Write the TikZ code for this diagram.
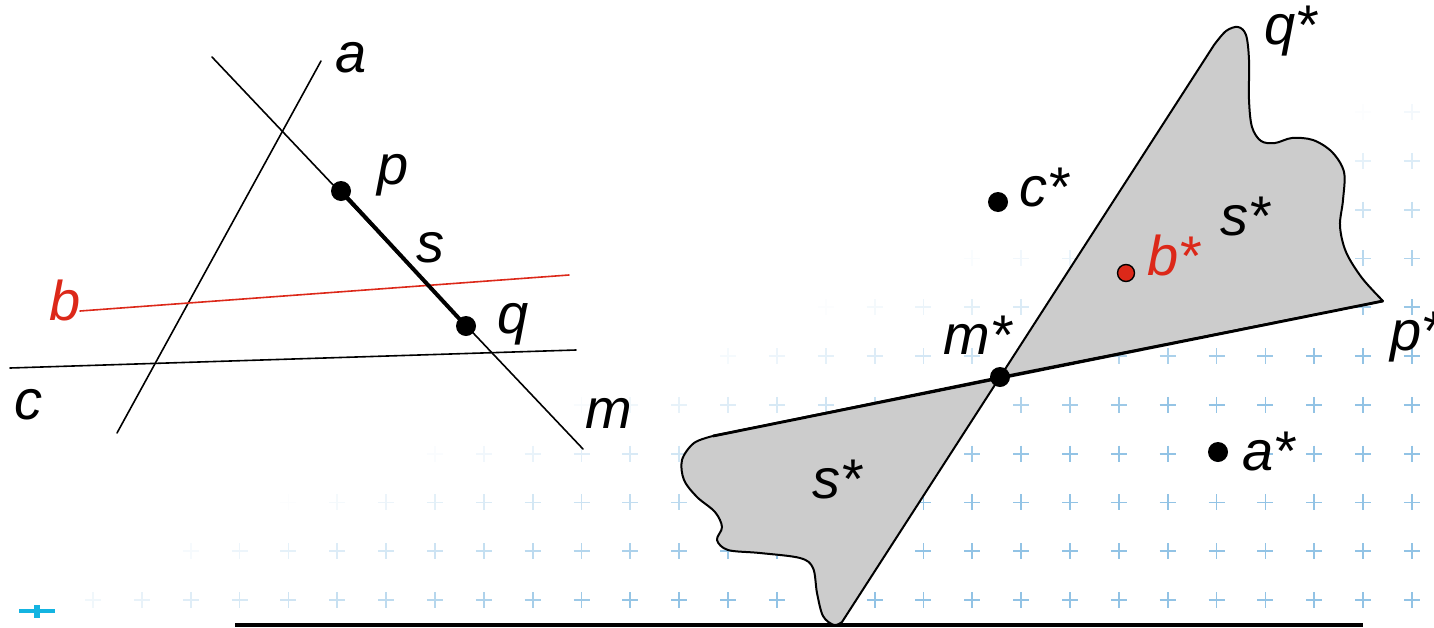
\documentclass[tikz,border=0pt]{standalone}
\usepackage{fontspec}
\setmainfont{Liberation Sans}
\definecolor{redb}{RGB}{220,40,25}
\definecolor{shadegray}{RGB}{204,204,204}
\definecolor{gridblue}{RGB}{110,175,220}
\definecolor{cyanplus}{RGB}{20,180,225}
\newcommand{\lab}[1]{\textit{#1}}
\newcommand{\labs}[1]{\textit{#1}\kern1pt\textup{*}}
\begin{document}
\begin{tikzpicture}[x=0.5pt,y=-0.5pt,
  font=\fontsize{28}{32}\selectfont,
  thinline/.style={line width=0.8pt, line cap=round},
  thickseg/.style={line width=2pt},
  blobstyle/.style={fill=shadegray, draw=black, line width=1pt, line join=round},
  starline/.style={line width=1.4pt},
  dot/.style={circle, fill=black, inner sep=0pt, minimum size=10pt},
  reddot/.style={circle, fill=redb, draw=black, line width=0.7pt, inner sep=0pt, minimum size=8.5pt},
  lbl/.style={anchor=base west, inner sep=0pt},
  gridplus/.style={draw=gridblue, line width=0.9pt}]
\useasboundingbox (0,0) rectangle (1434,627);
\clip (0,0) rectangle (1434,627);

% faint background grid of plus signs
\foreach \i in {0,...,27}{
  \foreach \j in {0,...,10}{
    \pgfmathsetmacro\gx{93+48.85*\i}
    \pgfmathsetmacro\gy{600-48.8*\j}
    \pgfmathsetmacro\op{max(0,min(1,(\gx/1434+1.2*\gy/627-1.15)/0.45))*0.75}
    \ifdim\op pt>0.01pt
      \draw[gridplus,opacity=\op] (\gx-8,\gy) -- (\gx+8,\gy) (\gx,\gy-8) -- (\gx,\gy+8);
    \fi
  }
}
% cyan plus at bottom left
\draw[cyanplus, line width=2pt] (19,611) -- (55,611);
\draw[cyanplus, line width=2.6pt] (37,605) -- (37,618);
% bottom rule
\draw[line width=2pt] (235,625) -- (1363,625);

% ---------- left figure ----------
\coordinate (a1) at (117,433);
\coordinate (a2) at (321,61);
\coordinate (m1) at (212,57);
\coordinate (m2) at (583,449);
\coordinate (b1) at (80,311);
\coordinate (b2) at (569,275);
\coordinate (c1) at (10,368);
\coordinate (c2) at (576,350);
\draw[thinline] (a1) -- (a2);
\draw[thinline] (m1) -- (m2);
\draw[thinline, redb] (b1) -- (b2);
\draw[thinline] (c1) -- (c2);
\node[dot] (p) at (341,191) {};
\node[dot] (q) at (466,326) {};
\draw[thickseg] (p.center) -- (q.center);

\node[lbl] (la) at (335,72) {\lab{a}};
\node[lbl] (lp) at (377,184) {\lab{p}};
\node[lbl] (ls) at (416,262) {\lab{s}};
\node[lbl] (lq) at (497,333) {\lab{q}};
\node[lbl] (lm) at (585,428) {\lab{m}};
\node[lbl, text=redb] (lb) at (49,320) {\lab{b}};
\node[lbl] (lc) at (14,419) {\lab{c}};

% ---------- right figure ----------
\coordinate (mstar) at (1000,377);
\draw[blobstyle] (mstar) -- plot[smooth, tension=0.55] coordinates {
  (1214,45) (1226,31) (1238,27) (1246,35) (1249,60) (1249,100) (1252,127)
  (1261,141) (1275,143) (1292,138) (1313,140) (1332,152) (1344,172)
  (1343,200) (1340,226) (1346,252) (1362,278) (1383,301)} -- cycle;
\draw[blobstyle] (mstar) -- plot[smooth, tension=0.55] coordinates {
  (713,436) (694,443) (682,460) (684,480) (697,497) (715,512) (722,527)
  (717,540) (728,550) (760,553) (800,558) (813,568) (817,593) (823,616)
  (834,625) (842,622)} -- cycle;
\coordinate (pend) at (1383,301);
\coordinate (lend) at (713,436);
\draw[starline] (lend) -- (pend);

\node[dot] (ms) at (mstar) {};
\node[dot] (cs) at (998,202) {};
\node[dot] (as) at (1218,452) {};
\node[reddot] (bs) at (1126,273) {};

\node[lbl] (lqs) at (1264,44) {\labs{q}};
\node[lbl] (lcs) at (1019,206) {\labs{c}};
\node[lbl] (lss) at (1220,235) {\labs{s}};
\node[lbl, text=redb] (lbs) at (1147,275) {\labs{b}};
\node[lbl] (lms) at (943,354) {\labs{m}};
\node[lbl] (lps) at (1390,350) {\labs{p}};
\node[lbl] (las) at (1242,470) {\labs{a}};
\node[lbl] (lss2) at (812,498) {\labs{s}};
\end{tikzpicture}
\end{document}
